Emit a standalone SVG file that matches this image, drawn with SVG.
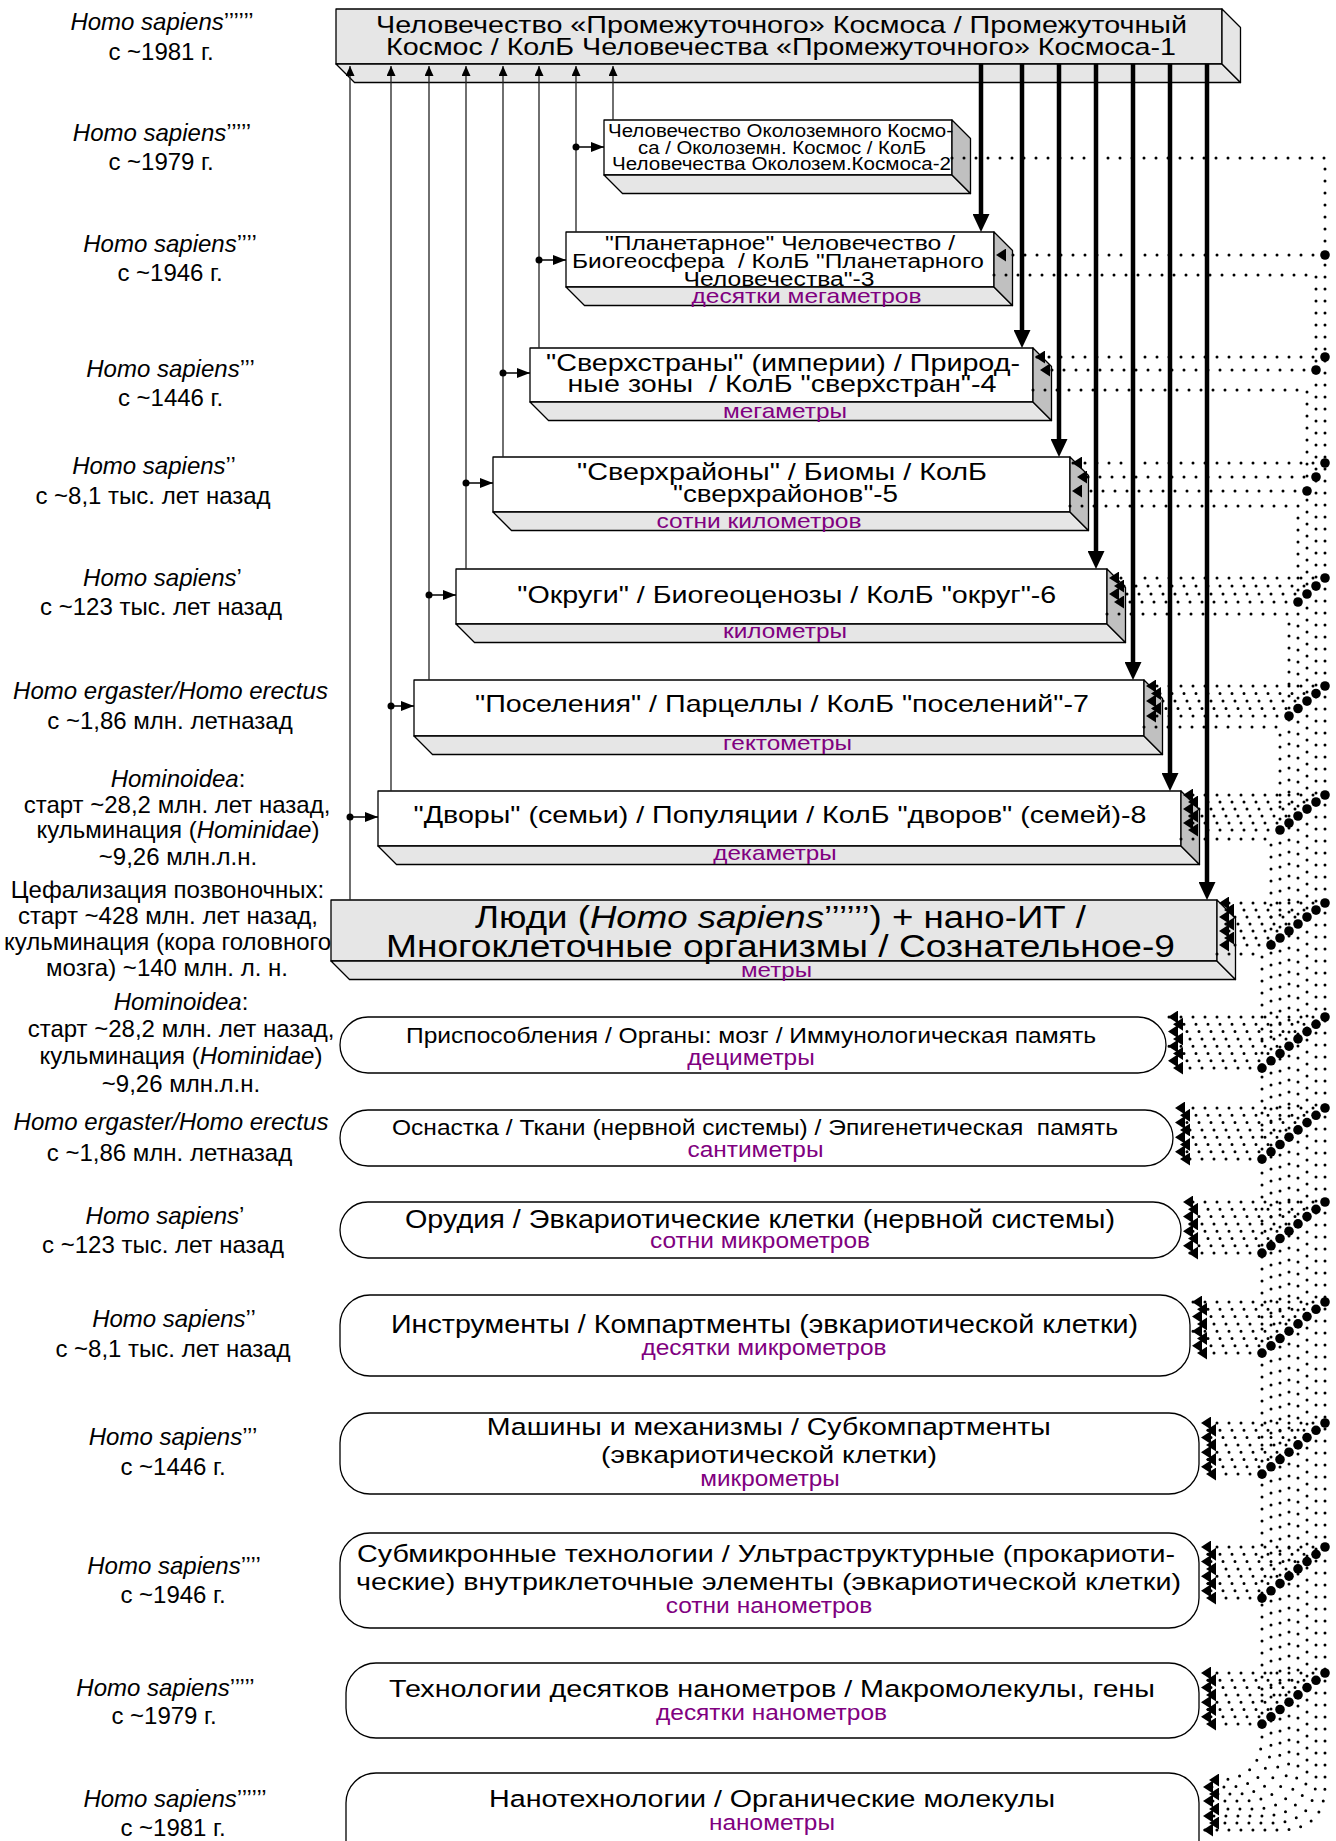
<svg xmlns="http://www.w3.org/2000/svg" width="1336" height="1841" viewBox="0 0 1336 1841">
<style>
.bx{stroke:#000;stroke-width:1.3;stroke-linejoin:round}
.fw{fill:#fff}.fg{fill:#e6e6e6}.fd{fill:#c0c0c0}
.t{font-family:"Liberation Sans",Arial,sans-serif;fill:#000;text-anchor:middle}
.s{font-family:"Liberation Sans",Arial,sans-serif;fill:#800080;text-anchor:middle}
.l{font-family:"Liberation Sans",Arial,sans-serif;font-size:24px;fill:#000;text-anchor:middle}
.i{font-style:italic}
.thin{stroke:#222;stroke-width:1.3;fill:none;marker-end:url(#au)}
.thick{stroke:#000;stroke-width:4.5;fill:none;marker-end:url(#ah)}
.feed{stroke:#000;stroke-width:1.5;fill:none;marker-end:url(#af)}
.dot{stroke:#000;stroke-width:3;stroke-dasharray:0 12;stroke-linecap:round;fill:none;marker-end:url(#ad)}
.rb{fill:#fff;stroke:#000;stroke-width:1.3}
</style>
<defs>
<marker id="ah" markerUnits="userSpaceOnUse" markerWidth="18" markerHeight="17" refX="8" refY="8.5" orient="auto" viewBox="0 0 18 17"><path d="M0,0 L18,8.5 L0,17 z" fill="#000"/></marker>
<marker id="au" markerUnits="userSpaceOnUse" markerWidth="10" markerHeight="9" refX="10" refY="4.5" orient="auto" viewBox="0 0 10 9"><path d="M0,0 L10,4.5 L0,9 z" fill="#000"/></marker>
<marker id="af" markerUnits="userSpaceOnUse" markerWidth="13" markerHeight="10" refX="13" refY="5" orient="auto" viewBox="0 0 13 10"><path d="M0,0 L13,5 L0,10 z" fill="#000"/></marker>
<marker id="ad" markerUnits="userSpaceOnUse" markerWidth="10" markerHeight="13" refX="10" refY="6.5" orient="auto" viewBox="0 0 10 13"><path d="M0,0 L10,6.5 L0,13 z" fill="#000"/></marker>
</defs>
<rect width="1336" height="1841" fill="#fff"/>

<g id="labels">
<text class="l" x="162" y="30"><tspan class="i">Homo sapiens</tspan>’’’’’’</text>
<text class="l" x="161" y="60">с ~1981 г.</text>
<text class="l" x="162" y="141"><tspan class="i">Homo sapiens</tspan>’’’’’</text>
<text class="l" x="161" y="170">с ~1979 г.</text>
<text class="l" x="170" y="252"><tspan class="i">Homo sapiens</tspan>’’’’</text>
<text class="l" x="170" y="281">с ~1946 г.</text>
<text class="l" x="170.5" y="377"><tspan class="i">Homo sapiens</tspan>’’’</text>
<text class="l" x="170.5" y="406">с ~1446 г.</text>
<text class="l" x="154" y="474"><tspan class="i">Homo sapiens</tspan>’’</text>
<text class="l" x="153" y="504">с ~8,1 тыс. лет назад</text>
<text class="l" x="162.5" y="586"><tspan class="i">Homo sapiens</tspan>’</text>
<text class="l" x="161" y="615">с ~123 тыс. лет назад</text>
<text class="l i" x="170.5" y="699">Homo ergaster/Homo erectus</text>
<text class="l" x="170" y="729">с ~1,86 млн. летназад</text>
<text class="l" x="178" y="787"><tspan class="i">Hominoidea</tspan>:</text>
<text class="l" x="177" y="813">старт ~28,2 млн. лет назад,</text>
<text class="l" x="178" y="838">кульминация (<tspan class="i">Hominidae</tspan>)</text>
<text class="l" x="178" y="865">~9,26 млн.л.н.</text>
<text class="l" x="167.5" y="898">Цефализация позвоночных:</text>
<text class="l" x="168" y="924">старт ~428 млн. лет назад,</text>
<text class="l" x="167.5" y="950">кульминация (кора головного</text>
<text class="l" x="167" y="976">мозга) ~140 млн. л. н.</text>
<text class="l" x="181" y="1010"><tspan class="i">Hominoidea</tspan>:</text>
<text class="l" x="181" y="1037">старт ~28,2 млн. лет назад,</text>
<text class="l" x="181" y="1064">кульминация (<tspan class="i">Hominidae</tspan>)</text>
<text class="l" x="181" y="1092">~9,26 млн.л.н.</text>
<text class="l i" x="171" y="1130">Homo ergaster/Homo erectus</text>
<text class="l" x="169.5" y="1161">с ~1,86 млн. летназад</text>
<text class="l" x="165" y="1224"><tspan class="i">Homo sapiens</tspan>’</text>
<text class="l" x="163" y="1253">с ~123 тыс. лет назад</text>
<text class="l" x="174" y="1327"><tspan class="i">Homo sapiens</tspan>’’</text>
<text class="l" x="173" y="1357">с ~8,1 тыс. лет назад</text>
<text class="l" x="173" y="1445"><tspan class="i">Homo sapiens</tspan>’’’</text>
<text class="l" x="173" y="1475">с ~1446 г.</text>
<text class="l" x="174" y="1574"><tspan class="i">Homo sapiens</tspan>’’’’</text>
<text class="l" x="173" y="1603">с ~1946 г.</text>
<text class="l" x="165.5" y="1696"><tspan class="i">Homo sapiens</tspan>’’’’’</text>
<text class="l" x="164" y="1724">с ~1979 г.</text>
<text class="l" x="175" y="1807"><tspan class="i">Homo sapiens</tspan>’’’’’’</text>
<text class="l" x="173" y="1836">с ~1981 г.</text>
</g>

<g id="n1">
<rect class="bx fg" x="336" y="9" width="886" height="55"/>
<polygon class="bx fg" points="336,64 1222,64 1240.5,82.5 354.5,82.5"/>
<polygon class="bx fg" points="1222,9 1240.5,27.5 1240.5,82.5 1222,64"/>
<text class="t" x="781.5" y="33" font-size="24" textLength="811" lengthAdjust="spacingAndGlyphs">Человечество «Промежуточного» Космоса / Промежуточный</text>
<text class="t" x="781" y="55" font-size="24" textLength="790" lengthAdjust="spacingAndGlyphs">Космос / КолБ Человечества «Промежуточного» Космоса-1</text>
</g>
<g id="n2">
<rect class="bx fw" x="604" y="120" width="348" height="55"/>
<polygon class="bx fg" points="604,175 952,175 970.5,193.5 622.5,193.5"/>
<polygon class="bx fd" points="952,120 970.5,138.5 970.5,193.5 952,175"/>
<text class="t" x="780.5" y="137" font-size="17.5" textLength="345" lengthAdjust="spacingAndGlyphs">Человечество Околоземного Космо-</text>
<text class="t" x="782" y="154" font-size="17.5" textLength="288" lengthAdjust="spacingAndGlyphs">са / Околоземн. Космос / КолБ</text>
<text class="t" x="781.5" y="170" font-size="17.5" textLength="339" lengthAdjust="spacingAndGlyphs">Человечества Околозем.Космоса-2</text>
</g>
<g id="n3">
<rect class="bx fw" x="566" y="232" width="428" height="55"/>
<polygon class="bx fg" points="566,287 994,287 1012.5,305.5 584.5,305.5"/>
<polygon class="bx fd" points="994,232 1012.5,250.5 1012.5,305.5 994,287"/>
<text class="t" x="780" y="250" font-size="19.5" textLength="350" lengthAdjust="spacingAndGlyphs">"Планетарное" Человечество /</text>
<text class="t" x="778" y="268" font-size="19.5" textLength="412" lengthAdjust="spacingAndGlyphs">Биогеосфера&#160; / КолБ "Планетарного</text>
<text class="t" x="779" y="286" font-size="19.5" textLength="191" lengthAdjust="spacingAndGlyphs">Человечества"-3</text>
<text class="s" x="806.5" y="303" font-size="21" textLength="230" lengthAdjust="spacingAndGlyphs">десятки мегаметров</text>
</g>
<g id="n4">
<rect class="bx fw" x="530" y="348" width="503" height="54"/>
<polygon class="bx fg" points="530,402 1033,402 1051.5,420.5 548.5,420.5"/>
<polygon class="bx fd" points="1033,348 1051.5,366.5 1051.5,420.5 1033,402"/>
<text class="t" x="783" y="371" font-size="24" textLength="474" lengthAdjust="spacingAndGlyphs">"Сверхстраны" (империи) / Природ-</text>
<text class="t" x="782" y="392" font-size="24" textLength="429" lengthAdjust="spacingAndGlyphs">ные зоны&#160; / КолБ "сверхстран"-4</text>
<text class="s" x="785" y="418" font-size="21" textLength="124" lengthAdjust="spacingAndGlyphs">мегаметры</text>
</g>
<g id="n5">
<rect class="bx fw" x="493" y="457" width="577" height="55"/>
<polygon class="bx fg" points="493,512 1070,512 1088.5,530.5 511.5,530.5"/>
<polygon class="bx fd" points="1070,457 1088.5,475.5 1088.5,530.5 1070,512"/>
<text class="t" x="782" y="480" font-size="24" textLength="410" lengthAdjust="spacingAndGlyphs">"Сверхрайоны" / Биомы / КолБ</text>
<text class="t" x="785.5" y="502" font-size="24" textLength="225" lengthAdjust="spacingAndGlyphs">"сверхрайонов"-5</text>
<text class="s" x="759" y="528" font-size="21" textLength="205" lengthAdjust="spacingAndGlyphs">сотни километров</text>
</g>
<g id="n6">
<rect class="bx fw" x="456" y="569" width="651" height="55"/>
<polygon class="bx fg" points="456,624 1107,624 1125.5,642.5 474.5,642.5"/>
<polygon class="bx fd" points="1107,569 1125.5,587.5 1125.5,642.5 1107,624"/>
<text class="t" x="786.8" y="603" font-size="24" textLength="539" lengthAdjust="spacingAndGlyphs">"Округи" / Биогеоценозы / КолБ "округ"-6</text>
<text class="s" x="785" y="638" font-size="21" textLength="124" lengthAdjust="spacingAndGlyphs">километры</text>
</g>
<g id="n7">
<rect class="bx fw" x="414" y="680" width="730" height="56"/>
<polygon class="bx fg" points="414,736 1144,736 1162.5,754.5 432.5,754.5"/>
<polygon class="bx fd" points="1144,680 1162.5,698.5 1162.5,754.5 1144,736"/>
<text class="t" x="782" y="712" font-size="24" textLength="614" lengthAdjust="spacingAndGlyphs">"Поселения" / Парцеллы / КолБ "поселений"-7</text>
<text class="s" x="787.5" y="750" font-size="21" textLength="129" lengthAdjust="spacingAndGlyphs">гектометры</text>
</g>
<g id="n8">
<rect class="bx fw" x="378" y="791" width="803" height="55"/>
<polygon class="bx fg" points="378,846 1181,846 1199.5,864.5 396.5,864.5"/>
<polygon class="bx fd" points="1181,791 1199.5,809.5 1199.5,864.5 1181,846"/>
<text class="t" x="780" y="823" font-size="24" textLength="733" lengthAdjust="spacingAndGlyphs">"Дворы" (семьи) / Популяции / КолБ "дворов" (семей)-8</text>
<text class="s" x="775" y="860" font-size="21" textLength="123.5" lengthAdjust="spacingAndGlyphs">декаметры</text>
</g>
<g id="n9">
<rect class="bx fg" x="331" y="900" width="886" height="61"/>
<polygon class="bx fg" points="331,961 1217,961 1235.5,979.5 349.5,979.5"/>
<polygon class="bx fg" points="1217,900 1235.5,918.5 1235.5,979.5 1217,961"/>
<text class="t" x="780.5" y="928" font-size="31" textLength="611" lengthAdjust="spacingAndGlyphs">Люди (<tspan class="i">Homo sapiens</tspan>’’’’’’) + нано-ИТ /</text>
<text class="t" x="780.5" y="957" font-size="31" textLength="789" lengthAdjust="spacingAndGlyphs">Многоклеточные организмы / Сознательное-9</text>
<text class="s" x="776.5" y="977" font-size="21" textLength="71" lengthAdjust="spacingAndGlyphs">метры</text>
</g>
<g id="n10">
<rect class="rb" x="340" y="1017" width="826" height="56" rx="28" ry="28"/>
<text class="t" x="751" y="1043" font-size="22.5" textLength="690" lengthAdjust="spacingAndGlyphs">Приспособления / Органы: мозг / Иммунологическая память</text>
<text class="s" x="751" y="1065" font-size="22" textLength="127.5" lengthAdjust="spacingAndGlyphs">дециметры</text>
</g>
<g id="n11">
<rect class="rb" x="340" y="1110" width="833" height="56" rx="28" ry="28"/>
<text class="t" x="755" y="1135" font-size="22.5" textLength="726" lengthAdjust="spacingAndGlyphs">Оснастка / Ткани (нервной системы) / Эпигенетическая&#160; память</text>
<text class="s" x="755.5" y="1157" font-size="22" textLength="136" lengthAdjust="spacingAndGlyphs">сантиметры</text>
</g>
<g id="n12">
<rect class="rb" x="340" y="1202" width="841" height="56" rx="28" ry="28"/>
<text class="t" x="760" y="1228" font-size="26" textLength="710" lengthAdjust="spacingAndGlyphs">Орудия / Эвкариотические клетки (нервной системы)</text>
<text class="s" x="760" y="1248" font-size="22" textLength="220" lengthAdjust="spacingAndGlyphs">сотни микрометров</text>
</g>
<g id="n13">
<rect class="rb" x="340" y="1295" width="850" height="81" rx="30" ry="30"/>
<text class="t" x="764.5" y="1333" font-size="26" textLength="747" lengthAdjust="spacingAndGlyphs">Инструменты / Компартменты (эвкариотической клетки)</text>
<text class="s" x="764" y="1355" font-size="22" textLength="245" lengthAdjust="spacingAndGlyphs">десятки микрометров</text>
</g>
<g id="n14">
<rect class="rb" x="340" y="1413" width="859" height="81" rx="30" ry="30"/>
<text class="t" x="768.8" y="1435" font-size="24.5" textLength="564" lengthAdjust="spacingAndGlyphs">Машины и механизмы / Субкомпартменты</text>
<text class="t" x="769" y="1463" font-size="24.5" textLength="336" lengthAdjust="spacingAndGlyphs">(эвкариотической клетки)</text>
<text class="s" x="770" y="1486" font-size="22" textLength="139.5" lengthAdjust="spacingAndGlyphs">микрометры</text>
</g>
<g id="n15">
<rect class="rb" x="340" y="1533" width="859" height="95" rx="30" ry="30"/>
<text class="t" x="766" y="1562" font-size="24.5" textLength="818" lengthAdjust="spacingAndGlyphs">Субмикронные технологии / Ультраструктурные (прокариоти-</text>
<text class="t" x="768.5" y="1590" font-size="24.5" textLength="825" lengthAdjust="spacingAndGlyphs">ческие) внутриклеточные элементы (эвкариотической клетки)</text>
<text class="s" x="769" y="1613" font-size="22" textLength="206.6" lengthAdjust="spacingAndGlyphs">сотни нанометров</text>
</g>
<g id="n16">
<rect class="rb" x="346" y="1663" width="853" height="75" rx="30" ry="30"/>
<text class="t" x="772" y="1697" font-size="24.5" textLength="766" lengthAdjust="spacingAndGlyphs">Технологии десятков нанометров / Макромолекулы, гены</text>
<text class="s" x="771.5" y="1720" font-size="22" textLength="231" lengthAdjust="spacingAndGlyphs">десятки нанометров</text>
</g>
<g id="n17">
<rect class="rb" x="346" y="1773" width="853" height="100" rx="30" ry="30"/>
<text class="t" x="772" y="1807" font-size="24.5" textLength="566" lengthAdjust="spacingAndGlyphs">Нанотехнологии / Органические молекулы</text>
<text class="s" x="772" y="1830" font-size="22" textLength="126" lengthAdjust="spacingAndGlyphs">нанометры</text>
</g>

<g id="connectors">
<g id="up-lines">
<path class="thin" d="M350 900V66"/>
<path class="thin" d="M391 791V66"/>
<path class="thin" d="M429 680V66"/>
<path class="thin" d="M466 569V66"/>
<path class="thin" d="M503 457V66"/>
<path class="thin" d="M539 348V66"/>
<path class="thin" d="M576 232V66"/>
<path class="thin" d="M613 120V66"/>
</g>
<g id="feeds">
<path class="feed" d="M576 147H604"/><circle cx="576" cy="147" r="3.5"/>
<path class="feed" d="M539 260H566"/><circle cx="539" cy="260" r="3.5"/>
<path class="feed" d="M503 373H530"/><circle cx="503" cy="373" r="3.5"/>
<path class="feed" d="M466 483H493"/><circle cx="466" cy="483" r="3.5"/>
<path class="feed" d="M429 595H456"/><circle cx="429" cy="595" r="3.5"/>
<path class="feed" d="M391 706H414"/><circle cx="391" cy="706" r="3.5"/>
<path class="feed" d="M350 817H378"/><circle cx="350" cy="817" r="3.5"/>
</g>
<g id="down-arrows">
<path class="thick" d="M981 64V222"/>
<path class="thick" d="M1022 64V338"/>
<path class="thick" d="M1059 64V447"/>
<path class="thick" d="M1096 64V559"/>
<path class="thick" d="M1133 64V670"/>
<path class="thick" d="M1170 64V781"/>
<path class="thick" d="M1207 64V890"/>
</g>
<g id="buses">
<path class="dot" d="M952 158H1325V1785Q1325 1830 1280 1830H1203"/>
<path class="dot" d="M994 275H1316V1778Q1316 1823 1271 1823H1209"/>
<path class="dot" d="M1033 390H1307V1771Q1307 1816 1262 1816H1203"/>
<path class="dot" d="M1070 506H1298V1764Q1298 1809 1253 1809H1209"/>
<path class="dot" d="M1107 614H1289V1756Q1289 1801 1244 1801H1203"/>
<path class="dot" d="M1144 727H1280V1749Q1280 1794 1235 1794H1209"/>
<path class="dot" d="M1181 839H1271V1742Q1271 1787 1226 1787H1203"/>
<path class="dot" d="M1217 954H1262V1735Q1262 1780 1217 1780H1209"/>
</g>
<g id="inputs">
<path class="dot" d="M1325 255H996"/>
<path class="dot" d="M1325 357H1035"/><path class="dot" d="M1316 370H1040"/>
<path class="dot" d="M1325 463H1072"/><path class="dot" d="M1316 477H1077"/><path class="dot" d="M1307 491H1072"/>
<path class="dot" d="M1325 578H1109"/><path class="dot" d="M1316 586H1114"/><path class="dot" d="M1307 594H1109"/><path class="dot" d="M1298 602H1114"/>
<path class="dot" d="M1325 686H1146"/><path class="dot" d="M1316 693.5H1151"/><path class="dot" d="M1307 701H1146"/><path class="dot" d="M1298 708.5H1151"/><path class="dot" d="M1289 716H1146"/>
<path class="dot" d="M1325 795H1183"/><path class="dot" d="M1316 802H1188"/><path class="dot" d="M1307 809H1183"/><path class="dot" d="M1298 816H1188"/><path class="dot" d="M1289 823H1183"/><path class="dot" d="M1280 830H1188"/>
<path class="dot" d="M1325 903H1219"/><path class="dot" d="M1316 910H1224"/><path class="dot" d="M1307 917H1219"/><path class="dot" d="M1298 924H1224"/><path class="dot" d="M1289 931H1219"/><path class="dot" d="M1280 938H1224"/><path class="dot" d="M1271 945H1219"/>
<path class="dot" d="M1325 1017H1168"/><path class="dot" d="M1316 1024.3H1173"/><path class="dot" d="M1307 1031.6H1168"/><path class="dot" d="M1298 1038.9H1173"/><path class="dot" d="M1289 1046.2H1168"/><path class="dot" d="M1280 1053.5H1173"/><path class="dot" d="M1271 1060.8H1168"/><path class="dot" d="M1262 1068.1H1173"/>
<path class="dot" d="M1325 1108H1175"/><path class="dot" d="M1316 1115.3H1180"/><path class="dot" d="M1307 1122.6H1175"/><path class="dot" d="M1298 1129.9H1180"/><path class="dot" d="M1289 1137.2H1175"/><path class="dot" d="M1280 1144.5H1180"/><path class="dot" d="M1271 1151.8H1175"/><path class="dot" d="M1262 1159.1H1180"/>
<path class="dot" d="M1325 1202H1183"/><path class="dot" d="M1316 1209.3H1188"/><path class="dot" d="M1307 1216.6H1183"/><path class="dot" d="M1298 1223.9H1188"/><path class="dot" d="M1289 1231.2H1183"/><path class="dot" d="M1280 1238.5H1188"/><path class="dot" d="M1271 1245.8H1183"/><path class="dot" d="M1262 1253.1H1188"/>
<path class="dot" d="M1325 1302H1192"/><path class="dot" d="M1316 1309.3H1197"/><path class="dot" d="M1307 1316.6H1192"/><path class="dot" d="M1298 1323.9H1197"/><path class="dot" d="M1289 1331.2H1192"/><path class="dot" d="M1280 1338.5H1197"/><path class="dot" d="M1271 1345.8H1192"/><path class="dot" d="M1262 1353.1H1197"/>
<path class="dot" d="M1325 1423H1201"/><path class="dot" d="M1316 1430.3H1206"/><path class="dot" d="M1307 1437.6H1201"/><path class="dot" d="M1298 1444.9H1206"/><path class="dot" d="M1289 1452.2H1201"/><path class="dot" d="M1280 1459.5H1206"/><path class="dot" d="M1271 1466.8H1201"/><path class="dot" d="M1262 1474.1H1206"/>
<path class="dot" d="M1325 1547H1201"/><path class="dot" d="M1316 1554.3H1206"/><path class="dot" d="M1307 1561.6H1201"/><path class="dot" d="M1298 1568.9H1206"/><path class="dot" d="M1289 1576.2H1201"/><path class="dot" d="M1280 1583.5H1206"/><path class="dot" d="M1271 1590.8H1201"/><path class="dot" d="M1262 1598.1H1206"/>
<path class="dot" d="M1325 1673H1201"/><path class="dot" d="M1316 1680.3H1206"/><path class="dot" d="M1307 1687.6H1201"/><path class="dot" d="M1298 1694.9H1206"/><path class="dot" d="M1289 1702.2H1201"/><path class="dot" d="M1280 1709.5H1206"/><path class="dot" d="M1271 1716.8H1201"/><path class="dot" d="M1262 1724.1H1206"/>
</g>
<g id="junctions" fill="#000">
<circle cx="1325" cy="255" r="4.8"/>
<circle cx="1325" cy="357" r="4.8"/><circle cx="1316" cy="370" r="4.8"/>
<circle cx="1325" cy="463" r="4.8"/><circle cx="1316" cy="477" r="4.8"/><circle cx="1307" cy="491" r="4.8"/>
<circle cx="1325" cy="578" r="4.8"/><circle cx="1316" cy="586" r="4.8"/><circle cx="1307" cy="594" r="4.8"/><circle cx="1298" cy="602" r="4.8"/>
<circle cx="1325" cy="686" r="4.8"/><circle cx="1316" cy="693.5" r="4.8"/><circle cx="1307" cy="701" r="4.8"/><circle cx="1298" cy="708.5" r="4.8"/><circle cx="1289" cy="716" r="4.8"/>
<circle cx="1325" cy="795" r="4.8"/><circle cx="1316" cy="802" r="4.8"/><circle cx="1307" cy="809" r="4.8"/><circle cx="1298" cy="816" r="4.8"/><circle cx="1289" cy="823" r="4.8"/><circle cx="1280" cy="830" r="4.8"/>
<circle cx="1325" cy="903" r="4.8"/><circle cx="1316" cy="910" r="4.8"/><circle cx="1307" cy="917" r="4.8"/><circle cx="1298" cy="924" r="4.8"/><circle cx="1289" cy="931" r="4.8"/><circle cx="1280" cy="938" r="4.8"/><circle cx="1271" cy="945" r="4.8"/>
<circle cx="1325" cy="1017" r="4.8"/><circle cx="1316" cy="1024.3" r="4.8"/><circle cx="1307" cy="1031.6" r="4.8"/><circle cx="1298" cy="1038.9" r="4.8"/><circle cx="1289" cy="1046.2" r="4.8"/><circle cx="1280" cy="1053.5" r="4.8"/><circle cx="1271" cy="1060.8" r="4.8"/><circle cx="1262" cy="1068.1" r="4.8"/>
<circle cx="1325" cy="1108" r="4.8"/><circle cx="1316" cy="1115.3" r="4.8"/><circle cx="1307" cy="1122.6" r="4.8"/><circle cx="1298" cy="1129.9" r="4.8"/><circle cx="1289" cy="1137.2" r="4.8"/><circle cx="1280" cy="1144.5" r="4.8"/><circle cx="1271" cy="1151.8" r="4.8"/><circle cx="1262" cy="1159.1" r="4.8"/>
<circle cx="1325" cy="1202" r="4.8"/><circle cx="1316" cy="1209.3" r="4.8"/><circle cx="1307" cy="1216.6" r="4.8"/><circle cx="1298" cy="1223.9" r="4.8"/><circle cx="1289" cy="1231.2" r="4.8"/><circle cx="1280" cy="1238.5" r="4.8"/><circle cx="1271" cy="1245.8" r="4.8"/><circle cx="1262" cy="1253.1" r="4.8"/>
<circle cx="1325" cy="1302" r="4.8"/><circle cx="1316" cy="1309.3" r="4.8"/><circle cx="1307" cy="1316.6" r="4.8"/><circle cx="1298" cy="1323.9" r="4.8"/><circle cx="1289" cy="1331.2" r="4.8"/><circle cx="1280" cy="1338.5" r="4.8"/><circle cx="1271" cy="1345.8" r="4.8"/><circle cx="1262" cy="1353.1" r="4.8"/>
<circle cx="1325" cy="1423" r="4.8"/><circle cx="1316" cy="1430.3" r="4.8"/><circle cx="1307" cy="1437.6" r="4.8"/><circle cx="1298" cy="1444.9" r="4.8"/><circle cx="1289" cy="1452.2" r="4.8"/><circle cx="1280" cy="1459.5" r="4.8"/><circle cx="1271" cy="1466.8" r="4.8"/><circle cx="1262" cy="1474.1" r="4.8"/>
<circle cx="1325" cy="1547" r="4.8"/><circle cx="1316" cy="1554.3" r="4.8"/><circle cx="1307" cy="1561.6" r="4.8"/><circle cx="1298" cy="1568.9" r="4.8"/><circle cx="1289" cy="1576.2" r="4.8"/><circle cx="1280" cy="1583.5" r="4.8"/><circle cx="1271" cy="1590.8" r="4.8"/><circle cx="1262" cy="1598.1" r="4.8"/>
<circle cx="1325" cy="1673" r="4.8"/><circle cx="1316" cy="1680.3" r="4.8"/><circle cx="1307" cy="1687.6" r="4.8"/><circle cx="1298" cy="1694.9" r="4.8"/><circle cx="1289" cy="1702.2" r="4.8"/><circle cx="1280" cy="1709.5" r="4.8"/><circle cx="1271" cy="1716.8" r="4.8"/><circle cx="1262" cy="1724.1" r="4.8"/>
</g>
</g>
</svg>
